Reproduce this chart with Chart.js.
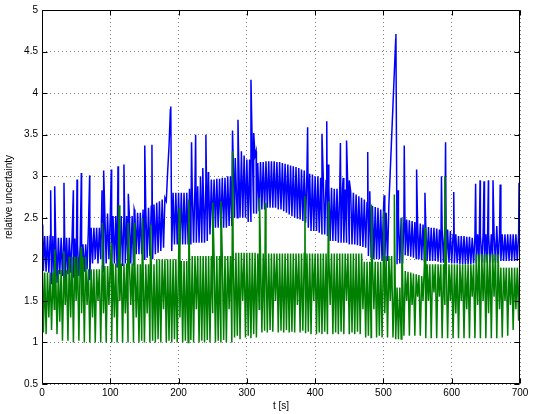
<!DOCTYPE html>
<html><head><meta charset="utf-8">
<script src="https://cdn.jsdelivr.net/npm/chart.js@4/dist/chart.umd.min.js"></script>
<style>html,body{margin:0;padding:0;background:#fff;}canvas{display:block;}</style>
</head><body>
<canvas id="c" width="534" height="414"></canvas>
<script>
// time between consecutive base samples [s]
const sampleStep = 2;

// blue series: samples every 2 s (alternating high / low)
const blueBase = [
2.22,1.86,2.28,1.85,2.28,1.84,2.28,1.7,2.28,1.75,
2.28,1.72,2.26,1.82,2.26,1.8,2.26,1.7,2.26,1.82,
2.26,1.84,2.25,1.78,2.25,1.72,2.18,1.8,2.18,1.75,
2.18,1.85,2.18,1.88,2.38,1.75,2.38,1.95,2.38,2.0,
2.38,1.95,2.38,2.0,2.55,1.85,2.55,1.95,2.55,2.0,
2.52,1.9,2.52,1.95,2.52,1.9,2.52,1.95,2.52,1.92,
2.52,1.95,2.52,1.9,2.52,1.95,2.52,1.93,2.56,2.06,
2.56,2.06,2.56,2.06,2.6,2.0,2.6,2.02,2.62,2.04,
2.64,2.0,2.66,2.06,2.68,2.08,2.7,2.1,2.72,2.14,
2.74,2.7,3.05,3.36,3.8,2.1,2.8,2.18,2.8,2.18,
2.8,2.18,2.8,2.18,2.8,2.18,2.8,2.18,2.85,2.18,
2.85,2.2,2.88,2.2,2.88,2.2,2.9,2.2,2.9,2.2,
2.92,2.22,2.95,2.3,2.96,2.38,2.96,2.38,2.97,2.38,
2.97,2.38,2.98,2.38,2.98,2.38,3.0,2.4,3.0,2.4,
3.2,2.5,3.22,2.5,3.22,2.5,3.25,2.5,3.25,2.5,
3.2,2.45,3.2,2.45,3.3,2.55,3.25,2.55,3.16,2.58,
3.17,2.6,3.17,2.6,3.18,2.62,3.18,2.62,3.18,2.62,
3.18,2.62,3.17,2.6,3.17,2.6,3.16,2.58,3.15,2.56,
3.14,2.54,3.13,2.52,3.12,2.5,3.11,2.49,3.1,2.48,
3.08,2.46,3.07,2.44,3.06,2.38,3.03,2.34,3.02,2.34,
3.0,2.34,3.0,2.32,2.98,2.3,2.96,2.3,2.95,2.28,
2.88,2.22,2.86,2.22,2.85,2.22,2.85,2.2,2.84,2.2,
2.84,2.2,2.84,2.2,2.82,2.18,2.82,2.18,2.8,2.18,
2.78,2.17,2.76,2.16,2.74,2.15,2.72,2.14,2.68,2.04,
2.66,2.02,2.64,2.0,2.63,2.0,2.62,2.0,2.6,1.98,
2.58,1.98,2.56,1.98,2.66,3.06,3.46,3.86,4.26,4.65,
1.94,2.52,1.95,2.5,1.95,2.48,2.05,2.48,2.04,2.47,
2.03,2.46,2.02,2.45,2.01,2.44,2.0,2.43,1.99,2.42,
1.98,2.4,1.98,2.39,1.98,2.38,1.98,2.38,1.98,2.37,
1.97,2.36,1.96,2.36,1.96,2.42,1.96,2.36,1.96,2.34,
1.95,2.3,1.95,2.3,1.95,2.28,1.94,2.28,1.94,2.28,
1.94,2.27,1.94,2.27,1.94,2.26,1.95,2.28,1.96,2.3,
1.96,2.3,1.96,2.3,1.96,2.3,1.96,2.3,1.96,2.3,
1.96,2.3,1.96,2.4,1.96,2.3,1.98,2.3,1.98,2.3,
1.98,2.3,1.98,2.3,1.98,2.3,1.98,2.3,1.98,2.3,
2.3
];
// blue spikes (time [s], value)
const blueSpikeT = [1,12.7,18.6,32.2,45.9,51.3,57.6,69.8,87.9,90.3,101.5,111.3,120,126.4,135,150.5,161,188.6,219,225,232,235.5,240,243.5,279,283,287,292,306,310,313.5,389,410,417,419,437,441,446,450,477,480,501,518.3,521.7,530.5,548.6,560.8,585,591,603,635,641.5,647.3,653.7,660.5,671,698.6];
const blueSpikeV = [2.42,2.83,2.88,2.92,2.83,2.96,3.04,3.01,2.83,3.07,3.08,3.12,3.14,2.79,2.6,3.37,3.38,3.84,3.41,3.5,3.0,3.1,3.5,3.05,3.55,3.22,3.68,3.3,4.16,3.52,3.3,3.59,3.51,3.66,3.14,3.4,2.98,3.43,2.95,3.29,2.82,2.77,4.71,2.83,3.37,3.08,2.8,3.0,3.41,2.81,2.91,2.95,2.94,2.95,2.95,2.9,2.92];

// green series: samples every 2 s
const greenBase = [
2.28,1.12,1.84,1.1,1.84,1.3,1.84,1.15,1.84,1.4,
1.87,1.1,1.87,1.25,1.87,1.02,1.87,1.45,1.87,1.02,
2.03,1.3,2.03,1.0,2.03,1.5,2.03,1.02,2.03,1.35,
2.03,1.0,2.03,1.45,1.88,1.0,1.88,1.3,1.88,1.0,
1.88,1.5,1.88,1.0,1.92,1.35,1.92,1.0,1.92,1.45,
1.95,1.0,1.95,1.3,1.95,1.0,1.95,1.5,1.95,1.0,
1.95,1.35,1.95,1.0,1.95,1.45,1.95,1.0,1.94,1.3,
1.94,1.0,1.94,1.02,1.94,1.0,1.94,1.35,1.94,1.0,
1.94,1.02,1.94,1.0,2.0,1.04,2.0,1.0,2.0,1.4,
2.0,1.0,2.0,1.02,2.0,1.0,2.0,1.04,2.0,1.0,
1.98,1.3,1.98,1.0,1.98,1.02,1.98,1.0,2.04,1.03,
2.04,1.0,2.04,1.4,2.04,1.0,2.04,1.02,2.04,1.0,
2.04,1.03,2.04,1.0,2.04,1.35,2.04,1.0,2.04,1.02,
2.04,1.0,2.04,1.03,2.04,1.0,2.04,1.4,2.04,1.0,
2.08,1.06,2.08,1.08,2.08,1.04,2.08,1.5,2.08,1.06,
2.08,1.08,2.08,1.05,2.08,1.1,2.08,1.06,2.07,1.4,
2.07,1.12,2.07,1.14,2.07,1.12,2.07,1.15,2.07,1.13,
2.07,1.5,2.07,1.12,2.07,1.14,2.07,1.12,2.07,1.15,
2.07,1.12,2.07,1.13,2.07,1.12,2.07,1.45,2.07,1.12,
2.07,1.14,2.07,1.11,2.07,1.13,2.07,1.1,2.07,1.5,
2.07,1.1,2.07,1.12,2.07,1.1,2.07,1.13,2.07,1.1,
2.07,1.45,2.07,1.1,2.07,1.12,2.07,1.1,2.07,1.13,
2.07,1.1,2.07,1.5,2.07,1.1,2.07,1.12,2.07,1.1,
2.07,1.13,2.07,1.1,2.07,1.4,1.97,1.06,1.97,1.08,
1.97,1.06,1.97,1.4,1.97,1.06,1.97,1.08,1.97,1.06,
2.04,1.35,2.04,1.06,2.04,1.5,2.04,1.06,1.66,1.04,
1.66,1.04,1.66,1.04,1.86,1.08,1.86,1.5,1.85,1.08,
1.84,1.45,1.83,1.08,1.82,1.55,1.81,1.08,1.8,1.5,
1.94,1.05,1.94,1.5,1.94,1.05,1.94,1.6,1.94,1.05,
1.94,1.55,1.94,1.05,1.94,1.45,1.94,1.05,1.94,1.5,
1.94,1.05,1.94,1.35,1.94,1.05,1.94,1.5,1.94,1.05,
1.94,1.4,1.94,1.05,1.94,1.55,1.94,1.05,2.06,1.45,
2.06,1.05,2.06,1.5,2.06,1.05,2.06,1.35,2.06,1.05,
2.06,1.55,2.06,1.05,2.06,1.4,1.9,1.06,1.9,1.5,
1.9,1.08,1.9,1.45,1.9,1.15,1.9,1.4,1.9,1.26,
2.1
];
const greenSpikeT = [18.6,32,57.6,88.4,101.5,112.8,126,135,147,159,201,215,250,262,279,318.5,327,385,419.5,482.5,500.5,516,527,561,590];
const greenSpikeV = [2.12,2.1,2.15,2.44,2.2,2.65,2.44,2.44,2.5,2.42,2.62,2.72,2.68,2.7,3.3,2.74,2.68,2.76,2.7,2.66,2.58,2.78,2.5,2.38,3.0];

const xTickValues = [0,100,200,300,400,500,600,700];
const xTickLabels = ['0','100','200','300','400','500','600','700'];
const yTickValues = [0.5,1,1.5,2,2.5,3,3.5,4,4.5,5];
const yTickLabels = ['0.5','1','1.5','2','2.5','3','3.5','4','4.5','5'];

function buildSeries(base, st, sv){
  const pts = base.map((v,i)=>({x:i*sampleStep, y:v}));
  st.forEach((t,i)=>pts.push({x:t, y:sv[i]}));
  pts.sort((a,b)=>a.x-b.x);
  return pts;
}

const FONT = {family:'"Liberation Sans", Arial, Helvetica, sans-serif', size:10};

const frameTicks = {
  id:'frameTicks',
  afterDatasetsDraw(chart){
    const {ctx, chartArea:a, scales:{x,y}} = chart;
    ctx.save();
    ctx.strokeStyle='#000'; ctx.lineWidth=1; ctx.setLineDash([]);
    const L=Math.round(a.left)+0.5, R=Math.round(a.right)-0.5, T=Math.round(a.top)+0.5, B=Math.round(a.bottom)-0.5;
    ctx.beginPath();
    ctx.rect(L,T,R-L,B-T);
    x.ticks.forEach(t=>{const p=Math.round(x.getPixelForValue(t.value))+0.5; ctx.moveTo(p,B); ctx.lineTo(p,B-5); ctx.moveTo(p,T); ctx.lineTo(p,T+5);});
    y.ticks.forEach(t=>{const p=Math.round(y.getPixelForValue(t.value))+0.5; ctx.moveTo(L,p); ctx.lineTo(L+5,p); ctx.moveTo(R,p); ctx.lineTo(R-5,p);});
    ctx.stroke();
    ctx.restore();
  }
};

new Chart(document.getElementById('c'), {
  type:'line',
  data:{datasets:[
    {label:'green', data:buildSeries(greenBase, greenSpikeT, greenSpikeV), borderColor:'#008000', borderWidth:1.5, pointRadius:0, tension:0, fill:false, order:1},
    {label:'blue', data:buildSeries(blueBase, blueSpikeT, blueSpikeV), borderColor:'#0000ff', borderWidth:1.5, pointRadius:0, tension:0, fill:false, order:2}
  ]},
  options:{
    responsive:false, animation:false, devicePixelRatio:1,
    layout:{padding:{left:0, right:14, top:8, bottom:0}},
    plugins:{legend:{display:false}, tooltip:{enabled:false}},
    scales:{
      x:{type:'linear', min:0, max:700,
        afterBuildTicks:s=>{s.ticks = xTickValues.map(v=>({value:v}));},
        afterFit:s=>{s.height=30;},
        ticks:{callback:(v,i)=>xTickLabels[i], font:FONT, color:'#000', padding:3, maxRotation:0},
        grid:{color:'rgba(0,0,0,0.5)', drawTicks:false, lineWidth:1},
        border:{display:false, dash:[1,3]},
        title:{display:true, text:'t [s]', font:FONT, color:'#000', padding:{top:0,bottom:2}}
      },
      y:{type:'linear', min:0.5, max:5,
        afterBuildTicks:s=>{s.ticks = yTickValues.map(v=>({value:v}));},
        afterFit:s=>{s.width=42;},
        ticks:{callback:(v,i)=>yTickLabels[i], font:FONT, color:'#000', padding:4},
        grid:{color:'rgba(0,0,0,0.5)', drawTicks:false, lineWidth:1},
        border:{display:false, dash:[1,3]},
        title:{display:true, text:'relative uncertainty', font:FONT, color:'#000', padding:{top:3,bottom:0}}
      }
    }
  },
  plugins:[frameTicks]
});
</script>
</body></html>
